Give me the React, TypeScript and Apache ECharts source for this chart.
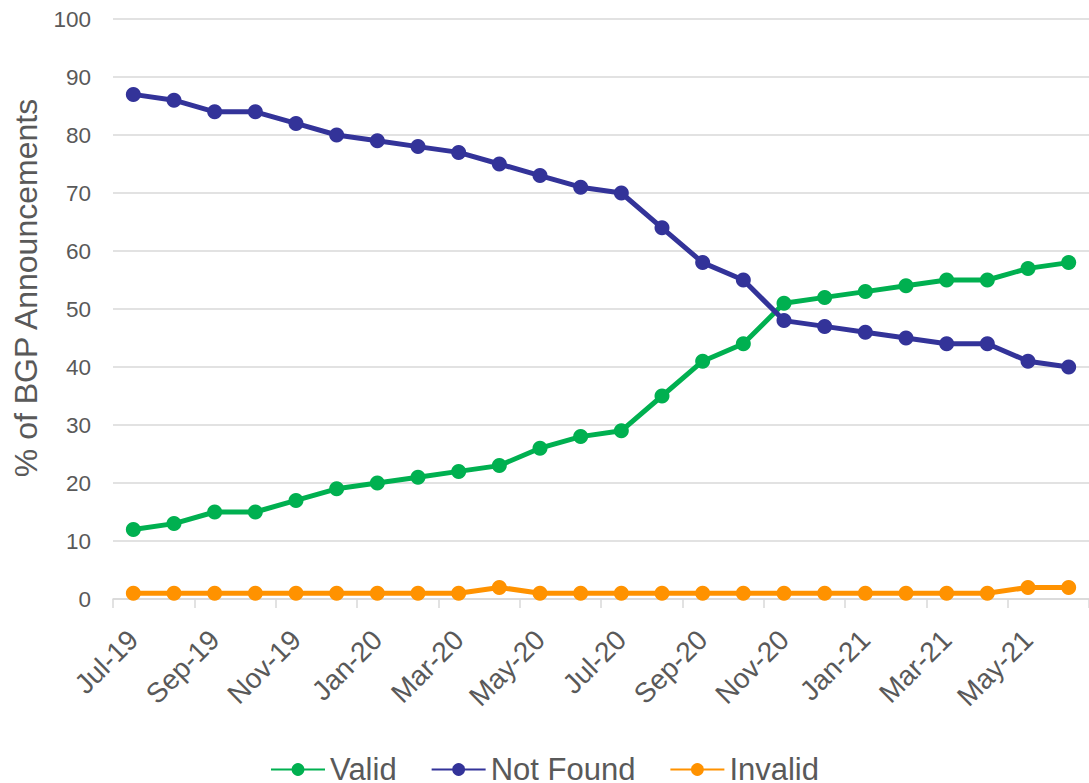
import React, { useEffect, useRef } from "react";
import * as echarts from "echarts";

const months = [
  "Jul-19", "Aug-19", "Sep-19", "Oct-19", "Nov-19", "Dec-19",
  "Jan-20", "Feb-20", "Mar-20", "Apr-20", "May-20", "Jun-20",
  "Jul-20", "Aug-20", "Sep-20", "Oct-20", "Nov-20", "Dec-20",
  "Jan-21", "Feb-21", "Mar-21", "Apr-21", "May-21", "Jun-21",
];
const valid = [12, 13, 15, 15, 17, 19, 20, 21, 22, 23, 26, 28, 29, 35, 41, 44, 51, 52, 53, 54, 55, 55, 57, 58];
const notFound = [87, 86, 84, 84, 82, 80, 79, 78, 77, 75, 73, 71, 70, 64, 58, 55, 48, 47, 46, 45, 44, 44, 41, 40];
const invalid = [1, 1, 1, 1, 1, 1, 1, 1, 1, 2, 1, 1, 1, 1, 1, 1, 1, 1, 1, 1, 1, 1, 2, 2];
const seriesNames = ["Valid", "Not Found", "Invalid"];
const colors = ["#00B050", "#333399", "#FF9200"];
const yTitle = "% of BGP Announcements";

const FONT = "'Liberation Sans', Arial, sans-serif";

export default function App() {
  const ref = useRef<HTMLDivElement>(null);
  useEffect(() => {
    if (!ref.current) return;
    const chart = echarts.init(ref.current, null, { renderer: "svg" });
    const mk = (name: string, data: number[], color: string) => ({
      name,
      type: "line",
      data,
      symbol: "circle",
      symbolSize: 15,
      lineStyle: { width: 5, color },
      itemStyle: { color },
      emphasis: { disabled: true },
    });
    chart.setOption({
      animation: false,
      textStyle: { fontFamily: FONT },
      grid: { left: 113, right: -5, top: 19, bottom: 184, containLabel: false },
      legend: {
        top: 749,
        left: "center",
        itemWidth: 54,
        itemHeight: 16,
        itemGap: 34,
        data: seriesNames,
        textStyle: { fontSize: 31, color: "#595959", fontFamily: FONT, padding: [0, 0, 0, 0] },
      },
      xAxis: {
        type: "category",
        data: months,
        boundaryGap: true,
        axisLine: { show: true, lineStyle: { color: "#D9D9D9", width: 1.5 } },
        axisTick: { show: true, interval: 1, length: 9, lineStyle: { color: "#D9D9D9", width: 1.5 } },
        axisLabel: {
          interval: 1,
          rotate: 45,
          fontSize: 28,
          color: "#595959",
          margin: 36,
          fontFamily: FONT,
        },
      },
      yAxis: {
        type: "value",
        min: 0,
        max: 100,
        interval: 10,
        axisLine: { show: false },
        axisTick: { show: false },
        splitLine: { lineStyle: { color: "#D9D9D9", width: 1.5 } },
        axisLabel: { fontSize: 22.5, color: "#595959", margin: 22, fontFamily: FONT },
      },
      graphic: [
        {
          type: "text",
          x: 26,
          y: 288,
          rotation: Math.PI / 2,
          style: {
            text: yTitle,
            fontSize: 32,
            fill: "#595959",
            fontFamily: FONT,
            align: "center",
            verticalAlign: "middle",
          },
        },
      ],
      series: [
        mk(seriesNames[0], valid, colors[0]),
        mk(seriesNames[1], notFound, colors[1]),
        mk(seriesNames[2], invalid, colors[2]),
      ],
    });
    return () => chart.dispose();
  }, []);
  return (
    <div
      ref={ref}
      style={{ position: "absolute", left: 0, top: 0, width: 1089, height: 783 }}
    />
  );
}
